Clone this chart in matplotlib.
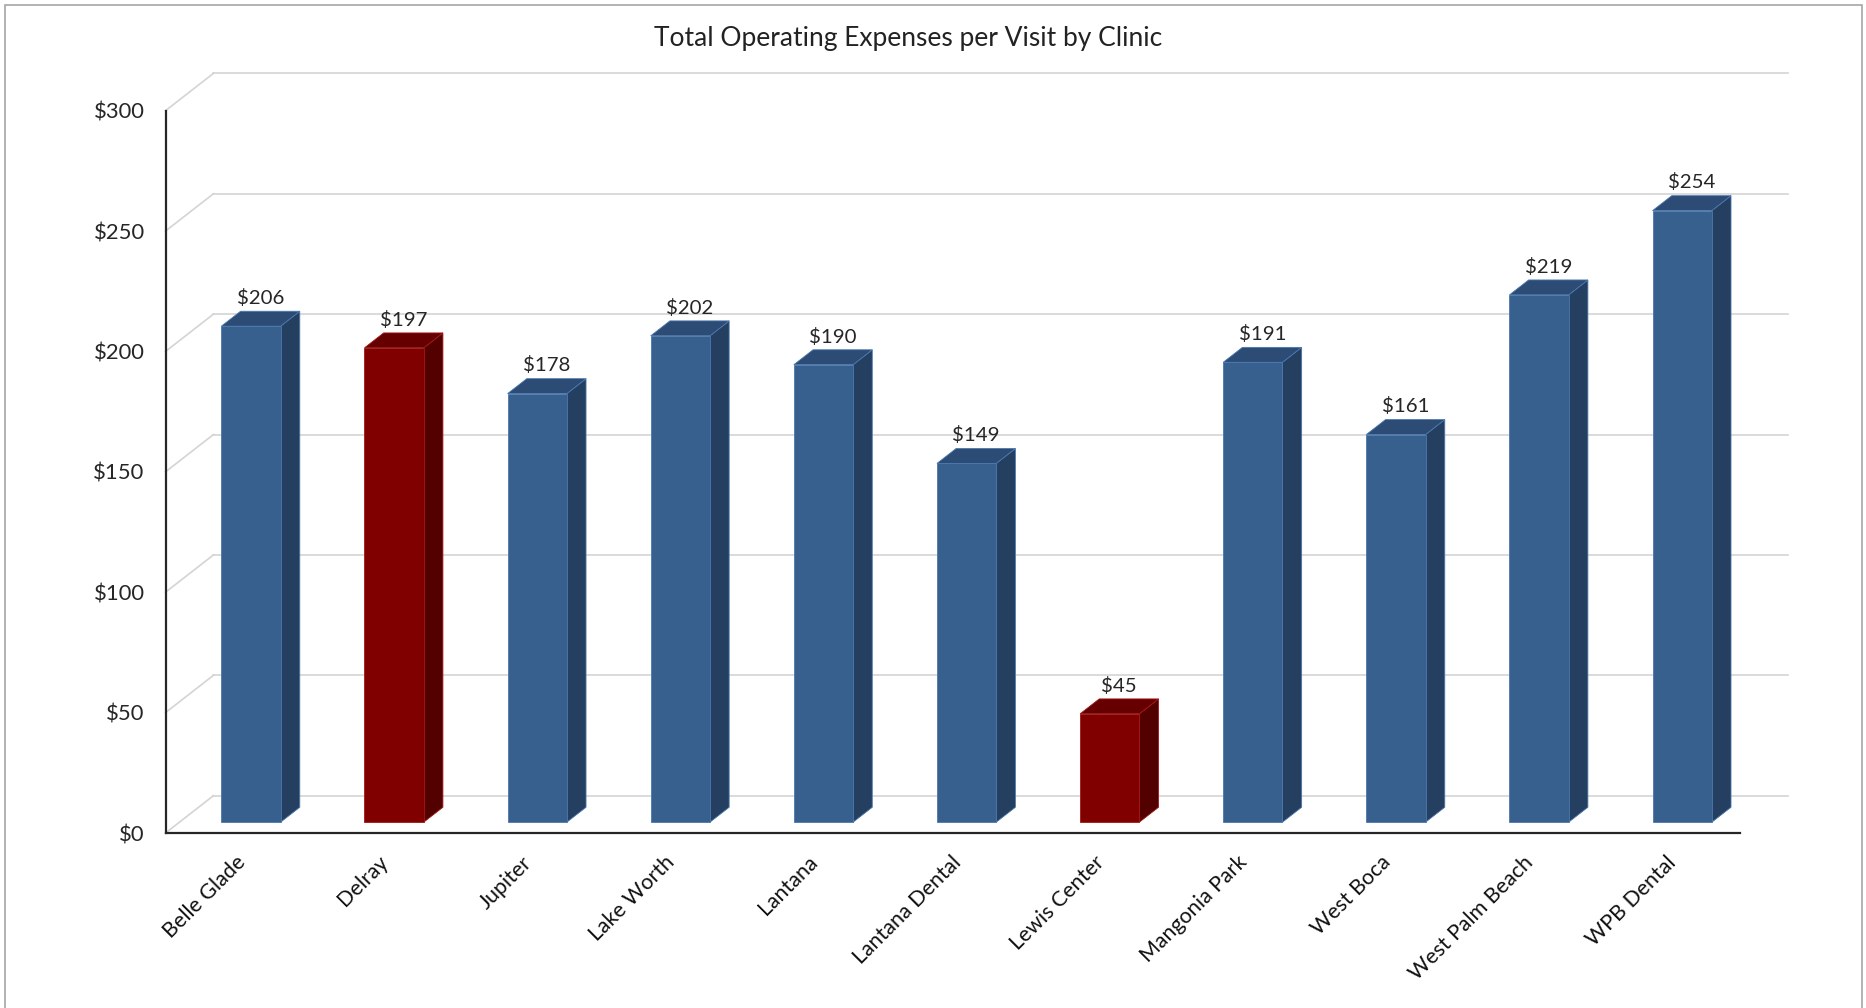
import matplotlib.pyplot as plt
from matplotlib.patches import Polygon, Rectangle
from matplotlib.transforms import ScaledTranslation

plt.rcParams["font.family"] = ["Lato", "DejaVu Sans"]

clinics = ["Belle Glade", "Delray", "Jupiter", "Lake Worth", "Lantana",
           "Lantana Dental", "Lewis Center", "Mangonia Park", "West Boca",
           "West Palm Beach", "WPB Dental"]
cost_per_visit = [206, 197, 178, 202, 190, 149, 45, 191, 161, 219, 254]
highlighted = ["Delray", "Lewis Center"]
y_ticks = [0, 50, 100, 150, 200, 250, 300]

# faces: front, side, top, edge
BLUE = ("#37608F", "#243F60", "#2C4B75", "#4A78AE")
RED = ("#800000", "#520000", "#660000", "#A01818")
GRID = "#D4D4D4"

# fake 3d: wall depth offset in data units (x = categories, y = dollars)
DX, DY = 0.335, 15.5
FRONT, BACK = 0.29, 0.69
WIDTH = 0.414

fig = plt.figure(figsize=(18.66, 10.08), dpi=100)
ax = fig.add_axes([0.0887, 0.1736, 0.8437, 0.7166])
ax.set_xlim(-0.5, len(clinics) - 0.5)
ax.set_ylim(y_ticks[0], y_ticks[-1])

# back wall gridlines + the diagonal joints to the front axis
x_left, x_right = -0.5, len(clinics) - 0.5
for t in y_ticks:
    ax.plot([x_left + DX, x_right + DX], [t + DY, t + DY], color=GRID,
            lw=1.2, clip_on=False, zorder=1)
    ax.plot([x_left, x_left + DX], [t, t + DY], color=GRID,
            lw=1.2, clip_on=False, zorder=1)

fx, fy = FRONT * DX, FRONT * DY
bx, by = BACK * DX, BACK * DY
for i, (name, v) in enumerate(zip(clinics, cost_per_visit)):
    front, side, top, edge = RED if name in highlighted else BLUE
    x0, x1 = i - WIDTH / 2, i + WIDTH / 2
    ax.add_patch(Polygon([(x1 + fx, fy), (x1 + bx, by), (x1 + bx, v + by),
                          (x1 + fx, v + fy)], closed=True, facecolor=side,
                         edgecolor=edge, lw=0.6, zorder=3, clip_on=False))
    ax.add_patch(Polygon([(x0 + fx, v + fy), (x1 + fx, v + fy),
                          (x1 + bx, v + by), (x0 + bx, v + by)], closed=True,
                         facecolor=top, edgecolor=edge, lw=0.6, zorder=3,
                         clip_on=False))
    ax.add_patch(Rectangle((x0 + fx, fy), WIDTH, v, facecolor=front,
                           edgecolor=edge, lw=0.6, zorder=4, clip_on=False))
    ax.annotate(f"${v}", xy=(i + (fx + bx) / 2, v + by), xytext=(0, 9.5),
                textcoords="offset points", ha="center", va="center",
                fontsize=14.7, color="#262626", annotation_clip=False)

for side in ("top", "right"):
    ax.spines[side].set_visible(False)
for side in ("left", "bottom"):
    ax.spines[side].set_color("#262626")
    ax.spines[side].set_linewidth(1.6)
ax.spines["left"].set_zorder(5)
ax.spines["bottom"].set_zorder(5)

ax.set_yticks(y_ticks)
ax.set_yticklabels([f"${t}" for t in y_ticks])
ax.set_xticks(range(len(clinics)))
ax.set_xticklabels(clinics, rotation=45, ha="right", va="center",
                   rotation_mode="anchor")
ax.tick_params(axis="y", length=0, pad=15, labelsize=15.8, labelcolor="#262626")
ax.tick_params(axis="x", length=0, pad=19, labelsize=15.4, labelcolor="#111111")
nudge = ScaledTranslation(5 / 100, 0, fig.dpi_scale_trans)
for lbl in ax.get_xticklabels():
    lbl.set_transform(lbl.get_transform() + nudge)

fig.text(0.4866, 0.962, "Total Operating Expenses per Visit by Clinic",
         ha="center", va="center", fontsize=19, color="#222222")

# chart area border
fig.add_artist(Rectangle((0.0025, -0.01), 0.9955, 1.005, transform=fig.transFigure,
                         fill=False, edgecolor="#A6A6A6", lw=1.2))

fig.savefig("out.png", dpi=100)
